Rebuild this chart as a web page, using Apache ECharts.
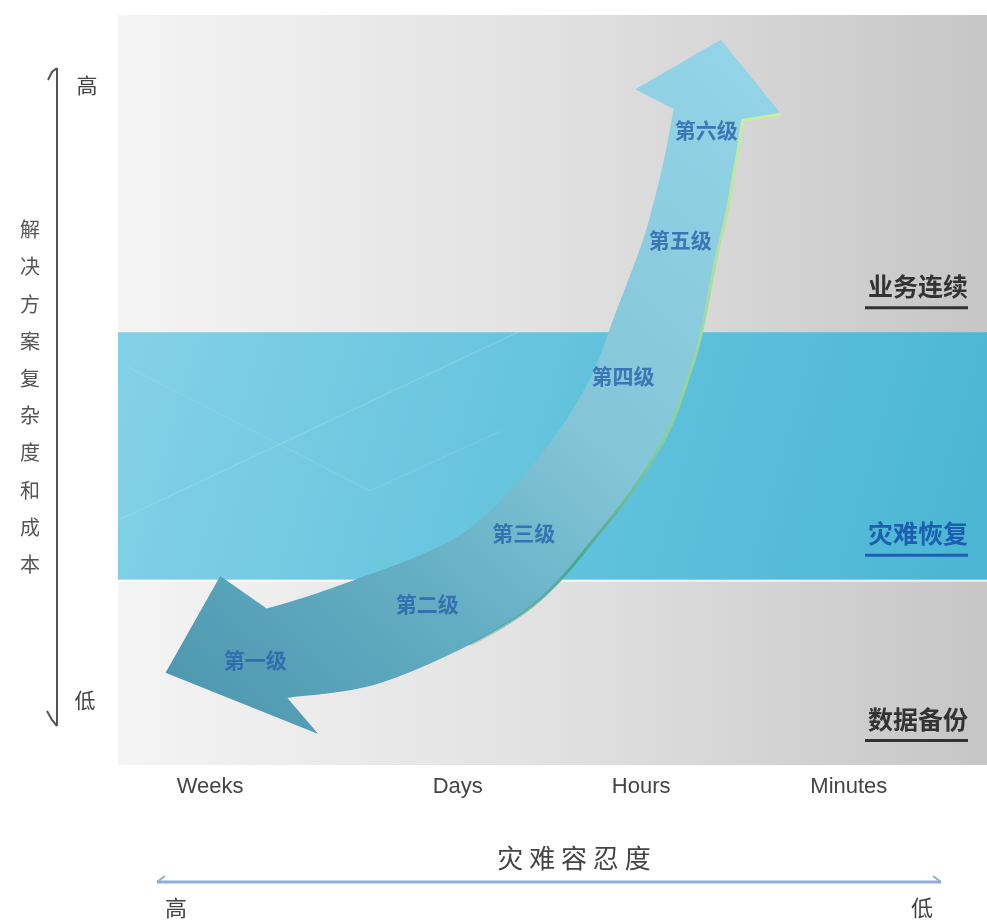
<!DOCTYPE html>
<html>
<head>
<meta charset="utf-8">
<script src="https://cdn.jsdelivr.net/npm/echarts@6/dist/echarts.min.js"></script>
<style>
  html, body { margin: 0; padding: 0; background: #ffffff; }
  #chart { width: 987px; height: 921px; }
</style>
</head>
<body>
<div id="chart"></div>
<script>
// Recovery-time categories on the tolerance axis (position in axis units, 0-10)
const toleranceNames = ['Weeks', 'Days', 'Hours', 'Minutes'];
const tolerancePos = [1.06, 3.91, 6.02, 8.41];

// Solution tiers on the complexity/cost scale (0-100)
const zoneNames = ['数据备份', '灾难恢复', '业务连续'];
const zoneFrom = [0, 24.7, 57.7];
const zoneTo = [24.7, 57.7, 100];

// Tier levels placed along the arrow
const levelNames = ['第一级', '第二级', '第三级', '第四级', '第五级', '第六级'];
const levelX = [1.58, 3.56, 4.67, 5.81, 6.47, 6.77];
const levelY = [14.0, 21.5, 30.9, 51.9, 70.0, 84.7];

// Arrow spine, from the low-cost end to the high-cost end
const spineX = [1.83, 2.92, 4.28, 5.16, 5.77, 6.13, 6.52, 6.70, 6.79];
const spineY = [14.9, 18.0, 25.3, 35.6, 45.6, 55.6, 71.3, 80.7, 86.7];

const CJK = '"Noto Sans CJK SC", "Noto Sans", sans-serif';
const LATIN = '"Liberation Sans", Arial, sans-serif';

// Shaft width (px) at each spine point
const SHAFT_WIDTH = [92, 106, 100, 95, 94, 90, 74, 71, 70];

function catmullRom(pts, seg) {
  const out = [];
  const n = pts.length;
  for (let i = 0; i < n - 1; i++) {
    const p0 = pts[Math.max(i - 1, 0)], p1 = pts[i], p2 = pts[i + 1], p3 = pts[Math.min(i + 2, n - 1)];
    for (let s = 0; s < seg; s++) {
      const t = s / seg, t2 = t * t, t3 = t2 * t;
      const f = (a, b, c, d) => 0.5 * (2 * b + (-a + c) * t + (2 * a - 5 * b + 4 * c - d) * t2 + (-a + 3 * b - 3 * c + d) * t3);
      out.push({ x: f(p0[0], p1[0], p2[0], p3[0]), y: f(p0[1], p1[1], p2[1], p3[1]), u: i + t });
    }
  }
  out.push({ x: pts[n - 1][0], y: pts[n - 1][1], u: n - 1 });
  return out;
}

// smooth width profile along the spine
function widthAt(u) {
  const i = Math.min(Math.floor(u), SHAFT_WIDTH.length - 2);
  const f = u - i;
  const k = f * f * (3 - 2 * f);
  return SHAFT_WIDTH[i] + (SHAFT_WIDTH[i + 1] - SHAFT_WIDTH[i]) * k;
}

function renderArrow(params, api) {
  const pts = spineX.map((x, i) => api.coord([x, spineY[i]]));
  const s = catmullRom(pts, 16);
  const N = s.length;
  const tang = s.map((p, i) => {
    const a = s[Math.max(i - 1, 0)], b = s[Math.min(i + 1, N - 1)];
    const dx = b.x - a.x, dy = b.y - a.y, l = Math.hypot(dx, dy) || 1;
    return [dx / l, dy / l];
  });
  const outer = [], inner = [];
  s.forEach((p, i) => {
    const t = tang[i], w = widthAt(p.u) / 2;
    const nx = t[1], ny = -t[0];
    outer.push([p.x + nx * w, p.y + ny * w]);
    inner.push([p.x - nx * w, p.y - ny * w]);
  });
  // upper head
  const E = s[N - 1], tE = tang[N - 1], nE = [tE[1], -tE[0]];
  const upBarbO = [E.x + tE[0] * 13 + nE[0] * 76, E.y + tE[1] * 13 + nE[1] * 76];
  const upTip = [E.x + tE[0] * 76, E.y + tE[1] * 76];
  const upBarbI = [E.x + tE[0] * 13 - nE[0] * 72, E.y + tE[1] * 13 - nE[1] * 72];
  // lower head (points backwards along the spine)
  const S = s[0], t0 = tang[0], n0 = [t0[1], -t0[0]], D = [-t0[0], -t0[1]];
  const loBarbO = [S.x + D[0] * 38 + n0[0] * 88, S.y + D[1] * 38 + n0[1] * 88];
  const loTip = [S.x + D[0] * 113 + n0[0] * 6, S.y + D[1] * 113 + n0[1] * 6];
  const loBarbI = [S.x - D[0] * 22 - n0[0] * 88, S.y - D[1] * 22 - n0[1] * 88];

  const poly = outer.concat([upBarbO, upTip, upBarbI], inner.slice().reverse(), [loBarbI, loTip, loBarbO]);

  const fill = new echarts.graphic.LinearGradient(loTip[0], loTip[1], upTip[0], upTip[1], [
    { offset: 0, color: '#4e99b0' },
    { offset: 0.3, color: '#66b0c5' },
    { offset: 0.55, color: '#84c6d7' },
    { offset: 1, color: '#93d4e8' }
  ], true);

  const edgeStart = s.findIndex(p => p.u >= 1.6);
  const edge = inner.slice(edgeStart).concat([upBarbI]);
  const edgeColor = new echarts.graphic.LinearGradient(edge[0][0], edge[0][1], upBarbI[0], upBarbI[1], [
    { offset: 0, color: 'rgba(70,160,140,0.3)' },
    { offset: 0.2, color: '#47a794' },
    { offset: 0.45, color: '#86cf9c' },
    { offset: 1, color: '#cdefa0' }
  ], true);

  return {
    type: 'group',
    children: [
      { type: 'polygon', shape: { points: poly }, style: { fill: fill } },
      { type: 'polyline', shape: { points: edge }, style: { stroke: edgeColor, lineWidth: 3, fill: null } }
    ]
  };
}

function renderZone(params, api) {
  const i = api.value(2);
  const cs = params.coordSys;
  const top = api.coord([0, api.value(1)])[1];
  const bottom = api.coord([0, api.value(0)])[1];
  const right = cs.x + cs.width;
  const color = i === 1 ? '#1c5fb0' : '#333333';
  const children = [];
  if (i === 1) {
    const h = bottom - top;
    children.push({
      type: 'rect',
      shape: { x: cs.x, y: top, width: cs.width, height: h },
      style: {
        fill: new echarts.graphic.LinearGradient(0, 0, 1, 1, [
          { offset: 0, color: '#84d1e6' },
          { offset: 0.5, color: '#63c3dd' },
          { offset: 1, color: '#4ab6d3' }
        ])
      }
    });
    // faint sheen lines across the band
    children.push({
      type: 'polyline',
      shape: { points: [[cs.x, top + h * 0.76], [cs.x + cs.width * 0.46, top]] },
      style: { stroke: 'rgba(255,255,255,0.12)', lineWidth: 1.5, fill: null }
    });
    children.push({
      type: 'polyline',
      shape: { points: [[cs.x + 10, top + h * 0.14], [cs.x + cs.width * 0.29, top + h * 0.64], [cs.x + cs.width * 0.44, top + h * 0.40]] },
      style: { stroke: 'rgba(255,255,255,0.08)', lineWidth: 1.5, fill: null }
    });
    children.push({
      type: 'line',
      shape: { x1: cs.x, y1: bottom + 1, x2: right, y2: bottom + 1 },
      style: { stroke: 'rgba(255,255,255,0.7)', lineWidth: 2 }
    });
  }
  children.push({
    type: 'text',
    style: {
      x: right - 19, y: bottom - 46, text: zoneNames[i], align: 'right', verticalAlign: 'middle',
      fill: color, font: 'bold 25px ' + CJK
    }
  });
  children.push({
    type: 'rect',
    shape: { x: right - 122, y: bottom - 26, width: 103, height: 3 },
    style: { fill: color }
  });
  return { type: 'group', children: children };
}

const chart = echarts.init(document.getElementById('chart'));

const option = {
  backgroundColor: '#ffffff',
  animation: false,
  grid: {
    left: 118, right: 0, top: 15, bottom: 156,
    show: true, borderWidth: 0,
    backgroundColor: new echarts.graphic.LinearGradient(0, 0, 1, 0, [
      { offset: 0, color: '#f4f4f4' },
      { offset: 0.5, color: '#e1e1e1' },
      { offset: 1, color: '#c6c6c6' }
    ])
  },
  xAxis: {
    type: 'value', min: 0, max: 10,
    axisLine: { show: false }, axisTick: { show: false }, splitLine: { show: false },
    axisLabel: {
      customValues: tolerancePos,
      formatter: v => toleranceNames[tolerancePos.indexOf(v)] || '',
      margin: 11, fontSize: 22, color: '#444', fontFamily: LATIN
    }
  },
  yAxis: { type: 'value', min: 0, max: 100, show: false },
  series: [
    {
      type: 'custom', name: 'zones', z: 1, silent: true,
      renderItem: renderZone,
      data: zoneNames.map((n, i) => [zoneFrom[i], zoneTo[i], i])
    },
    {
      type: 'custom', name: 'arrow', z: 2, silent: true, clip: false,
      renderItem: renderArrow,
      data: [[spineX[0], spineY[0]]]
    },
    {
      type: 'scatter', name: 'levels', z: 3, silent: true,
      symbolSize: 1, itemStyle: { color: 'rgba(0,0,0,0)' },
      label: {
        show: true, position: 'inside', formatter: '{b}',
        fontSize: 21, fontWeight: 'bold', color: '#2762ad', fontFamily: CJK
      },
      data: levelNames.map((n, i) => ({ name: n, value: [levelX[i], levelY[i]] }))
    }
  ],
  graphic: [
    // vertical cost axis
    { type: 'line', shape: { x1: 57, y1: 68, x2: 57, y2: 726 }, style: { stroke: '#555', lineWidth: 2 } },
    { type: 'polyline', shape: { points: [[57, 68], [52, 72], [48, 80]] }, style: { stroke: '#555', lineWidth: 2, fill: null } },
    { type: 'polyline', shape: { points: [[57, 726], [52, 720], [47, 711]] }, style: { stroke: '#555', lineWidth: 2, fill: null } },
    { type: 'text', style: { x: 87, y: 85, text: '高', align: 'center', verticalAlign: 'middle', fill: '#444', font: '21px ' + CJK } },
    { type: 'text', style: { x: 85, y: 700, text: '低', align: 'center', verticalAlign: 'middle', fill: '#444', font: '21px ' + CJK } },
    {
      type: 'text',
      style: {
        x: 30, y: 397, text: '解\n决\n方\n案\n复\n杂\n度\n和\n成\n本', align: 'center', verticalAlign: 'middle',
        fill: '#555', font: '20px ' + CJK, lineHeight: 37.2
      }
    },
    // horizontal tolerance axis
    { type: 'text', style: { x: 574, y: 858, text: '灾 难 容 忍 度', align: 'center', verticalAlign: 'middle', fill: '#444', font: '26px ' + CJK } },
    { type: 'line', shape: { x1: 157, y1: 882, x2: 941, y2: 882 }, style: { stroke: '#8eaedb', lineWidth: 3 } },
    { type: 'line', shape: { x1: 157, y1: 882, x2: 165, y2: 876 }, style: { stroke: '#8eaedb', lineWidth: 2 } },
    { type: 'line', shape: { x1: 941, y1: 882, x2: 933, y2: 876 }, style: { stroke: '#8eaedb', lineWidth: 2 } },
    { type: 'text', style: { x: 176, y: 908, text: '高', align: 'center', verticalAlign: 'middle', fill: '#444', font: '22px ' + CJK } },
    { type: 'text', style: { x: 922, y: 908, text: '低', align: 'center', verticalAlign: 'middle', fill: '#444', font: '22px ' + CJK } }
  ]
};

chart.setOption(option);
</script>
</body>
</html>
